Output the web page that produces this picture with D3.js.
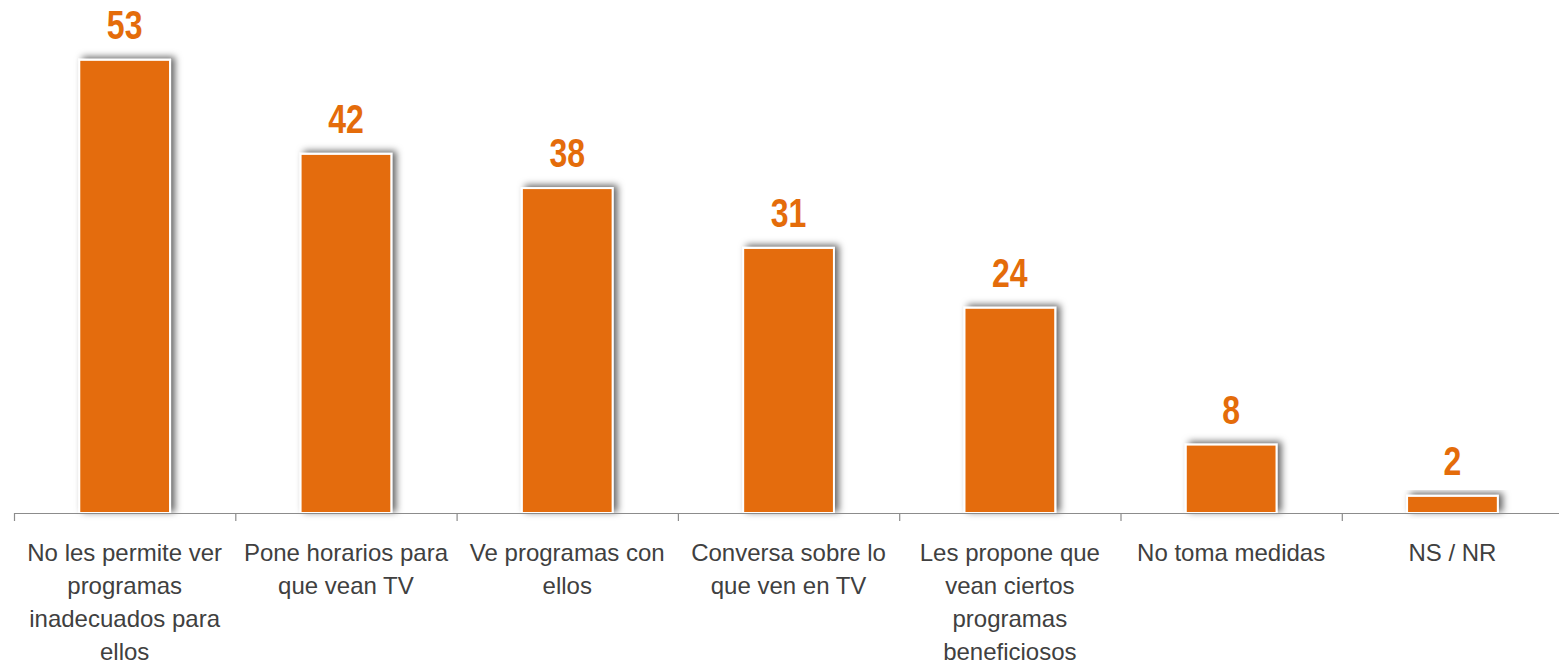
<!DOCTYPE html>
<html>
<head>
<meta charset="utf-8">
<script src="https://cdn.jsdelivr.net/npm/d3@7"></script>
<style>
    html, body { margin: 0; padding: 0; background: #fff; }
    svg { display: block; }
</style>
</head>
<body>
<script>
// Categories (already split into lines as in the original slide)
const categories = [
    ["No les permite ver", "programas", "inadecuados para", "ellos"],
    ["Pone horarios para", "que vean TV"],
    ["Ve programas con", "ellos"],
    ["Conversa sobre lo", "que ven en TV"],
    ["Les propone que", "vean ciertos", "programas", "beneficiosos"],
    ["No toma medidas"],
    ["NS / NR"]
];
// Percentages
const values = [53, 42, 38, 31, 24, 8, 2];

const width = 1559;
const height = 663;
const margin = {top: 0, left: 14, baseline: 513};

const orange = "#e46c0a";

// x: one band per category, ticks sit on the band edges
const x = d3.scaleBand()
    .domain(d3.range(values.length))
    .range([margin.left, margin.left + 221.3 * values.length]);

const y = d3.scaleLinear([0, 60], [margin.baseline, margin.top]);

const barWidth = x.bandwidth() * 0.41;

const svg = d3.select("body").append("svg")
    .attr("width", width)
    .attr("height", height);

// Soft shadow behind the bars
const filter = svg.append("defs").append("filter")
    .attr("id", "shadow")
    .attr("x", "-30%").attr("y", "-30%")
    .attr("width", "160%").attr("height", "160%");
filter.append("feDropShadow")
    .attr("dx", 4)
    .attr("dy", -2)
    .attr("stdDeviation", 3.5)
    .attr("flood-color", "#000")
    .attr("flood-opacity", 0.6);

// Bars
svg.append("g")
    .selectAll("rect")
    .data(values)
    .join("rect")
    .attr("x", (d, i) => x(i) + (x.bandwidth() - barWidth) / 2)
    .attr("y", d => y(d))
    .attr("width", barWidth)
    .attr("height", d => y(0) - y(d))
    .attr("fill", orange)
    .attr("stroke", "#fff")
    .attr("stroke-width", 2)
    .attr("filter", "url(#shadow)");

// Axis line with tick marks on category boundaries
const axis = svg.append("g").attr("stroke", "#8c8c8c").attr("stroke-width", 1.2);
axis.append("line")
    .attr("x1", x.range()[0])
    .attr("x2", x.range()[1])
    .attr("y1", y(0) + 0.5)
    .attr("y2", y(0) + 0.5);
axis.selectAll("line.tick")
    .data(d3.range(values.length + 1))
    .join("line")
    .attr("class", "tick")
    .attr("x1", i => (i < values.length ? x(i) : x.range()[1]) + 0.5)
    .attr("x2", i => (i < values.length ? x(i) : x.range()[1]) + 0.5)
    .attr("y1", y(0))
    .attr("y2", y(0) + 8);

// Value labels (narrow bold face, squeezed horizontally since no narrow font is installed)
svg.append("g")
    .attr("text-anchor", "middle")
    .style("font-family", "'Liberation Sans Narrow', 'Liberation Sans', Arial, sans-serif")
    .style("font-weight", "bold")
    .style("font-size", "40px")
    .attr("fill", orange)
    .selectAll("text")
    .data(values)
    .join("text")
    .attr("transform", (d, i) => `translate(${x(i) + x.bandwidth() / 2},${y(d) - 21}) scale(0.8,1)`)
    .text(d => d);

// Category labels
svg.append("g")
    .attr("text-anchor", "middle")
    .style("font-family", "'Liberation Sans', Arial, sans-serif")
    .style("font-size", "24px")
    .attr("fill", "#404040")
    .selectAll("text")
    .data(categories)
    .join("text")
    .attr("x", (d, i) => x(i) + x.bandwidth() / 2)
    .attr("y", 561)
    .selectAll("tspan")
    .data(d => d)
    .join("tspan")
    .attr("x", function () { return this.parentNode.getAttribute("x"); })
    .attr("dy", (d, j) => j === 0 ? 0 : 33)
    .text(d => d);
</script>
</body>
</html>
